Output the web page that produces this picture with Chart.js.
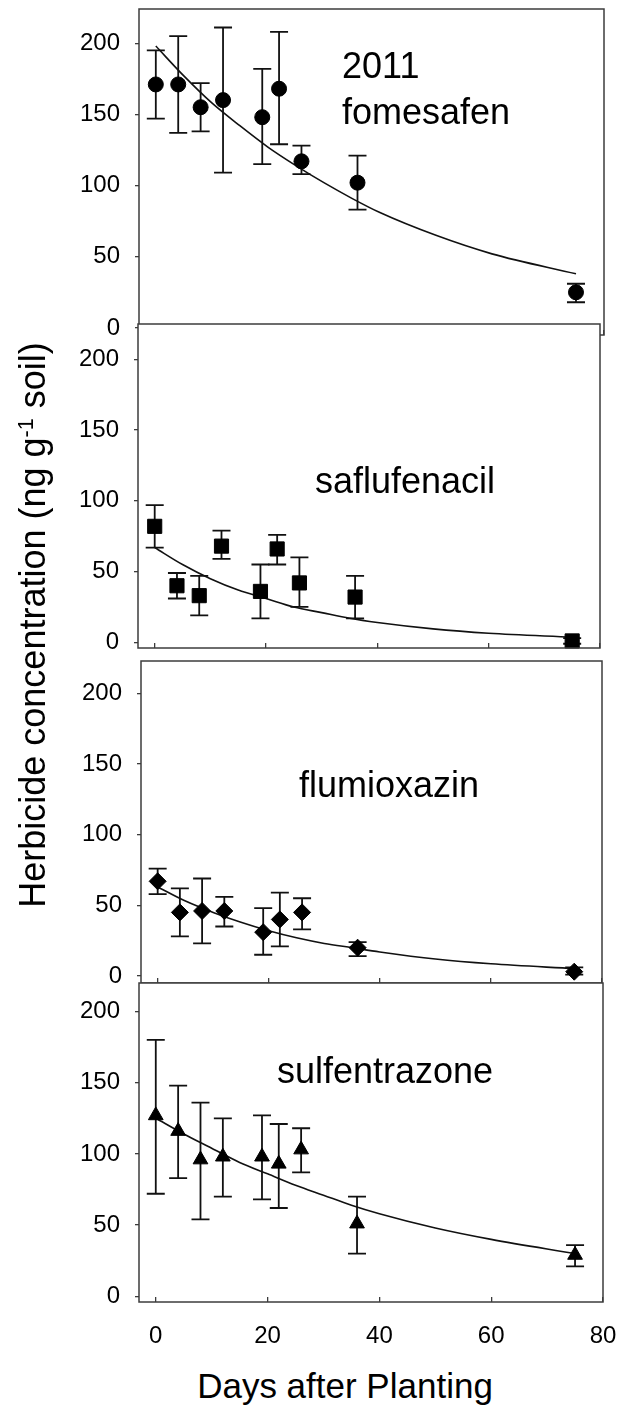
<!DOCTYPE html>
<html>
<head>
<meta charset="utf-8">
<script src="https://cdn.jsdelivr.net/npm/chart.js@4.4.1/dist/chart.umd.min.js"></script>
<style>
  html, body { margin: 0; padding: 0; background: #fff; }
  #page { position: relative; width: 634px; height: 1406px; overflow: hidden; background: #fff;
          font-family: "Liberation Sans", Arial, sans-serif; color: #000; }
  canvas { position: absolute; left: 0; }
  .ytitle { position: absolute; width: 700px; height: 40px; line-height: 40px; left: -317px; top: 605px;
            text-align: center; font-size: 36px; transform: rotate(-90deg); white-space: nowrap; }
  .ytitle sup { font-size: 0.6em; vertical-align: 0.55em; line-height: 0; }
  .xtitle { position: absolute; left: 145px; width: 400px; top: 1368px; height: 35px; line-height: 35px;
            font-size: 35px; text-align: center; white-space: nowrap; }
</style>
</head>
<body>
<div id="page">
  <canvas id="p1"></canvas>
  <canvas id="p2"></canvas>
  <canvas id="p3"></canvas>
  <canvas id="p4"></canvas>
  <div class="ytitle">Herbicide concentration (ng g<sup>-1</sup> soil)</div>
  <div class="xtitle">Days after Planting</div>
</div>
<script>
// axis ticks
const xTicks = [0, 20, 40, 60, 80]
const yTicks = [0, 50, 100, 150, 200]

// sampling days
const days = [0, 4, 8, 12, 19, 22, 26, 36, 75]

// measured means and error bar ends (ng g-1 soil)
const fomesafenMean = [171, 171, 155, 160, 148, 168, 117, 102, 25]
const fomesafenHigh = [195, 205, 172, 211, 182, 208, 128, 121, 31]
const fomesafenLow = [147, 137, 138, 109, 115, 129, 108, 83, 18]

const saflufenacilMean = [82, 40, 33, 68, 36, 66, 42, 32, 1]
const saflufenacilHigh = [97, 49, 47, 79, 55, 76, 60, 47, 3]
const saflufenacilLow = [67, 31, 19, 59, 17, 55, 25, 17, -1]

const flumioxazinMean = [67, 45, 46, 46, 31, 40, 45, 20, 3]
const flumioxazinHigh = [76, 62, 69, 56, 48, 59, 55, 24, 6]
const flumioxazinLow = [58, 28, 23, 35, 15, 21, 33, 14, 1]

const sulfentrazoneMean = [127, 116, 96, 98, 98, 93, 103, 51, 29]
const sulfentrazoneHigh = [180, 148, 136, 125, 127, 121, 118, 70, 36]
const sulfentrazoneLow = [72, 83, 54, 70, 68, 62, 87, 30, 21]

// fitted decay curves
const curveDays = [0, 5, 10, 15, 20, 25, 30, 35, 40, 50, 60, 75]
const fomesafenCurve = [198, 177, 158, 142, 127, 114, 102, 91, 81, 65, 52, 38]
const saflufenacilCurve = [67, 55, 45, 37, 31, 25, 21, 17, 14, 9.5, 6.4, 3.6]
const flumioxazinCurve = [63, 53, 45, 38, 32, 27, 23, 20, 17, 12, 8.6, 5.2]
const sulfentrazoneCurve = [125, 114, 104, 94, 86, 78, 71, 64, 58, 48, 40, 30]

Chart.defaults.font.family = '"Liberation Sans", Arial, sans-serif'
Chart.defaults.color = '#000'

const frameColor = '#3c3c3c'
const padTop = 30

const panels = [
  { id: 'p1', box: { l: 139, t: 9, r: 604, b: 335 }, yMin: -5, yMax: 224, mean: fomesafenMean, high: fomesafenHigh,
    low: fomesafenLow, curve: fomesafenCurve, shape: 'circle', size: 7.5, showX: false, bottom: 10,
    label: { lines: ['2011', 'fomesafen'], x: 342, y: [78, 124], align: 'left' } },
  { id: 'p2', box: { l: 138, t: 324, r: 600, b: 649 }, yMin: -4, yMax: 225, mean: saflufenacilMean, high: saflufenacilHigh,
    low: saflufenacilLow, curve: saflufenacilCurve, shape: 'rect', size: 10, showX: false, bottom: 10,
    label: { lines: ['saflufenacil'], x: 405, y: [493], align: 'center' } },
  { id: 'p3', box: { l: 141, t: 661, r: 602, b: 983 }, yMin: -5, yMax: 223, mean: flumioxazinMean, high: flumioxazinHigh,
    low: flumioxazinLow, curve: flumioxazinCurve, shape: 'rectRot', size: 8.5, showX: false, bottom: 10,
    label: { lines: ['flumioxazin'], x: 389, y: [797], align: 'center' } },
  { id: 'p4', box: { l: 139, t: 983, r: 603, b: 1302 }, yMin: -4, yMax: 220, mean: sulfentrazoneMean, high: sulfentrazoneHigh,
    low: sulfentrazoneLow, curve: sulfentrazoneCurve, shape: 'triangle', size: 8.5, showX: true, bottom: 60,
    label: { lines: ['sulfentrazone'], x: 385, y: [1083], align: 'center' } }
]

const frame = {
  id: 'frame',
  beforeDraw(chart) {
    const a = chart.chartArea
    const ctx = chart.ctx
    ctx.save()
    ctx.fillStyle = '#fff'
    ctx.fillRect(a.left, a.top, a.right - a.left, a.bottom - a.top)
    ctx.restore()
  },
  afterDraw(chart) {
    const a = chart.chartArea
    const ctx = chart.ctx
    ctx.save()
    ctx.strokeStyle = frameColor
    ctx.lineWidth = 1.5
    ctx.strokeRect(a.left, a.top, a.right - a.left, a.bottom - a.top)
    ctx.restore()
  }
}

const errorBars = {
  id: 'errorBars',
  beforeDatasetsDraw(chart) {
    const ctx = chart.ctx
    const xs = chart.scales.x
    const ys = chart.scales.y
    chart.data.datasets.forEach(ds => {
      if (!ds.errHigh) return
      ctx.save()
      ctx.strokeStyle = '#111'
      ctx.lineWidth = 1.8
      ds.data.forEach((p, i) => {
        const x = xs.getPixelForValue(p.x)
        const yh = ys.getPixelForValue(ds.errHigh[i])
        const yl = ys.getPixelForValue(ds.errLow[i])
        ctx.beginPath()
        ctx.moveTo(x, yh); ctx.lineTo(x, yl)
        ctx.moveTo(x - 9, yh); ctx.lineTo(x + 9, yh)
        ctx.moveTo(x - 9, yl); ctx.lineTo(x + 9, yl)
        ctx.stroke()
      })
      ctx.restore()
    })
  }
}

const panelLabel = {
  id: 'panelLabel',
  afterDraw(chart, args, opts) {
    const ctx = chart.ctx
    ctx.save()
    ctx.fillStyle = '#000'
    ctx.font = '36px "Liberation Sans", Arial, sans-serif'
    ctx.textAlign = opts.align
    ctx.textBaseline = 'alphabetic'
    opts.lines.forEach((t, i) => ctx.fillText(t, opts.x, opts.y[i] - opts.offset))
    ctx.restore()
  }
}

panels.forEach(p => {
  const canvas = document.getElementById(p.id)
  const top = p.box.t - padTop
  canvas.width = 634
  canvas.height = (p.box.b - p.box.t) + padTop + p.bottom
  canvas.style.top = top + 'px'

  new Chart(canvas, {
    type: 'scatter',
    data: {
      datasets: [
        {
          data: days.map((d, i) => ({ x: d, y: p.mean[i] })),
          errHigh: p.high,
          errLow: p.low,
          pointStyle: p.shape,
          pointRadius: p.size,
          backgroundColor: '#000',
          borderColor: '#000',
          borderWidth: 1,
          clip: false
        },
        {
          data: curveDays.map((d, i) => ({ x: d, y: p.curve[i] })),
          showLine: true,
          pointRadius: 0,
          borderColor: '#111',
          borderWidth: 1.6,
          cubicInterpolationMode: 'monotone',
          fill: false
        }
      ]
    },
    options: {
      responsive: false,
      animation: false,
      events: [],
      layout: { padding: { left: 0, top: padTop, right: 634 - p.box.r, bottom: 0 } },
      plugins: {
        legend: { display: false },
        tooltip: { enabled: false },
        panelLabel: { lines: p.label.lines, x: p.label.x, y: p.label.y, align: p.label.align, offset: top }
      },
      scales: {
        x: {
          type: 'linear',
          min: -3,
          max: 80,
          afterBuildTicks: s => { s.ticks = xTicks.map(v => ({ value: v })) },
          grid: { drawOnChartArea: false, drawTicks: true, tickLength: -5, color: frameColor, lineWidth: 1.3 },
          border: { display: false },
          ticks: { display: p.showX, padding: 25, maxRotation: 0, font: { size: 24 }, color: '#000' },
          afterFit: s => { s.height = p.bottom; s.paddingLeft = 0; s.paddingRight = 0 }
        },
        y: {
          type: 'linear',
          min: p.yMin,
          max: p.yMax,
          afterBuildTicks: s => { s.ticks = yTicks.map(v => ({ value: v })) },
          grid: { drawOnChartArea: false, tickLength: 4, color: frameColor, lineWidth: 1.3 },
          border: { display: false },
          ticks: { padding: 15, font: { size: 24 }, color: '#000' },
          afterFit: s => { s.width = p.box.l; s.paddingTop = 0; s.paddingBottom = 0 }
        }
      }
    },
    plugins: [frame, errorBars, panelLabel]
  })
})
</script>
</body>
</html>
